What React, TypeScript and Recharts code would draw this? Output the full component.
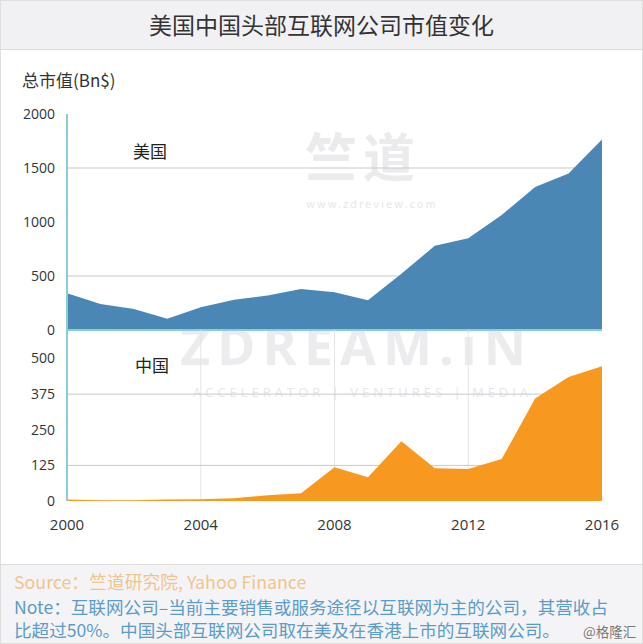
import React from 'react';
import { AreaChart, Area, XAxis, YAxis, CartesianGrid } from 'recharts';

const years = [2000, 2001, 2002, 2003, 2004, 2005, 2006, 2007, 2008, 2009, 2010, 2011, 2012, 2013, 2014, 2015, 2016];
const usValues = [340, 240, 195, 105, 210, 280, 320, 380, 350, 275, 520, 780, 850, 1065, 1325, 1450, 1765];
const cnValues = [5, 3, 3, 5, 6, 10, 20, 27, 118, 83, 210, 115, 112, 147, 360, 435, 473];
const usTicks = [0, 500, 1000, 1500, 2000];
const cnTicks = [0, 125, 250, 375, 500];
const xTicks = [2000, 2004, 2008, 2012, 2016];
const gridYears = [2004, 2008, 2012];
const usGrid = [500, 1500];
const cnGrid = [125, 375];

const usData = years.map((y, i) => ({ year: y, value: usValues[i] }));
const cnData = years.map((y, i) => ({ year: y, value: cnValues[i] }));

const TEAL = '#8ccbdb';
const BLUE = '#4a87b5';
const ORANGE = '#f7981f';
const FONT = '"Open Sans", "Noto Sans CJK SC", sans-serif';
const CJK = '"Noto Sans CJK SC", "Noto Sans", sans-serif';

export default function App() {
  return (
    <div style={{ position: 'relative', width: 643, height: 644, background: '#fff', overflow: 'hidden', fontFamily: CJK }}>
      <style>{'body{margin:0}'}</style>
      {/* title band */}
      <div style={{ position: 'absolute', left: 0, top: 0, width: 643, height: 49, background: '#f1f1f4', borderBottom: '1px solid #dcdcdc', textAlign: 'center', lineHeight: '49px', fontSize: 23, color: '#333' }}>
        美国中国头部互联网公司市值变化
      </div>
      <div style={{ position: 'absolute', left: 22, top: 68, fontSize: 17, color: '#333', lineHeight: '24px' }}>总市值(Bn$)</div>

      {/* watermark */}
      <div style={{ position: 'absolute', left: 305, top: 129, fontSize: 52, fontWeight: 700, color: '#ebebee', lineHeight: '52px', letterSpacing: 6, whiteSpace: 'nowrap' }}>竺道</div>
      <div style={{ position: 'absolute', left: 306, top: 197, fontSize: 11, color: '#e6e6e9', lineHeight: '13px', letterSpacing: 2, whiteSpace: 'nowrap' }}>www.zdreview.com</div>
      <div style={{ position: 'absolute', left: 180, top: 316, fontSize: 52, fontWeight: 700, color: '#ececef', lineHeight: '58px', fontFamily: FONT, letterSpacing: 7, whiteSpace: 'nowrap' }}>ZDREAM.iN</div>
      <div style={{ position: 'absolute', left: 193, top: 384, fontSize: 13, color: '#e6e6e9', lineHeight: '17px', fontFamily: FONT, letterSpacing: 4, whiteSpace: 'nowrap' }}>ACCELERATOR | VENTURES | MEDIA</div>

      {/* US chart */}
      <div style={{ position: 'absolute', left: 0, top: 100 }}>
        <AreaChart width={643} height={240} data={usData} margin={{ top: 14, right: 41, bottom: 0, left: 0 }}>
          <CartesianGrid stroke="#e4e4e6" horizontal={false} vertical={true} verticalValues={gridYears} />
          <CartesianGrid stroke="#c9c9cc" horizontal={true} vertical={false} horizontalValues={usGrid} />
          <XAxis dataKey="year" type="number" domain={[2000, 2016]} ticks={gridYears} tick={false} tickLine={false} axisLine={{ stroke: TEAL, strokeWidth: 2 }} height={10} />
          <YAxis type="number" domain={[0, 2000]} ticks={usTicks} width={67} tickLine={false} tickSize={0} tickMargin={12} axisLine={{ stroke: TEAL, strokeWidth: 2 }} tick={{ fill: '#333', fontSize: 14, fontFamily: FONT }} interval={0} />
          <Area type="linear" dataKey="value" stroke="none" fill={BLUE} fillOpacity={1} isAnimationActive={false} />
        </AreaChart>
      </div>
      <div style={{ position: 'absolute', left: 133, top: 139, fontSize: 17, color: '#222', lineHeight: '24px' }}>美国</div>

      {/* China chart */}
      <div style={{ position: 'absolute', left: 0, top: 320 }}>
        <AreaChart width={643} height={225} data={cnData} margin={{ top: 10, right: 41, bottom: 0, left: 0 }}>
          <CartesianGrid stroke="#e4e4e6" horizontal={false} vertical={true} verticalValues={gridYears} />
          <CartesianGrid stroke="#c9c9cc" horizontal={true} vertical={false} horizontalValues={cnGrid} />
          <XAxis dataKey="year" type="number" domain={[2000, 2016]} ticks={xTicks} tickLine={false} tickSize={0} tickMargin={18} axisLine={false} height={44} tick={{ fill: '#333', fontSize: 15, fontFamily: FONT }} interval={0} />
          <YAxis type="number" domain={[0, 600]} ticks={cnTicks} width={67} tickLine={false} tickSize={0} tickMargin={12} axisLine={{ stroke: TEAL, strokeWidth: 2 }} tick={{ fill: '#333', fontSize: 14, fontFamily: FONT }} interval={0} />
          <Area type="linear" dataKey="value" stroke="none" fill={ORANGE} fillOpacity={1} isAnimationActive={false} />
        </AreaChart>
      </div>
      <div style={{ position: 'absolute', left: 135, top: 353, fontSize: 17, color: '#222', lineHeight: '24px' }}>中国</div>

      {/* footer */}
      <div style={{ position: 'absolute', left: 0, top: 564, width: 643, height: 80, background: '#f4f4f6', borderTop: '1px solid #dcdcdc' }}>
        <div style={{ position: 'absolute', left: 14, top: 5, fontSize: 17.8, color: '#f1c48e', lineHeight: '22px', whiteSpace: 'nowrap' }}>Source：竺道研究院, Yahoo Finance</div>
        <div style={{ position: 'absolute', left: 14, top: 31, fontSize: 17.6, color: '#5b9bc8', lineHeight: '21px', whiteSpace: 'nowrap' }}>Note：互联网公司–当前主要销售或服务途径以互联网为主的公司，其营收占</div>
        <div style={{ position: 'absolute', left: 14, top: 54, fontSize: 17.6, color: '#5b9bc8', lineHeight: '21px', whiteSpace: 'nowrap' }}>比超过50%。中国头部互联网公司取在美及在香港上市的互联网公司。</div>
        <div style={{ position: 'absolute', left: 583, top: 57, fontSize: 13.5, color: '#777', lineHeight: '18px', whiteSpace: 'nowrap' }}>@格隆汇</div>
      </div>
      <div style={{ position: 'absolute', left: 0, top: 0, width: 643, height: 644, boxSizing: 'border-box', border: '1px solid #dedede', pointerEvents: 'none' }} />
    </div>
  );
}
